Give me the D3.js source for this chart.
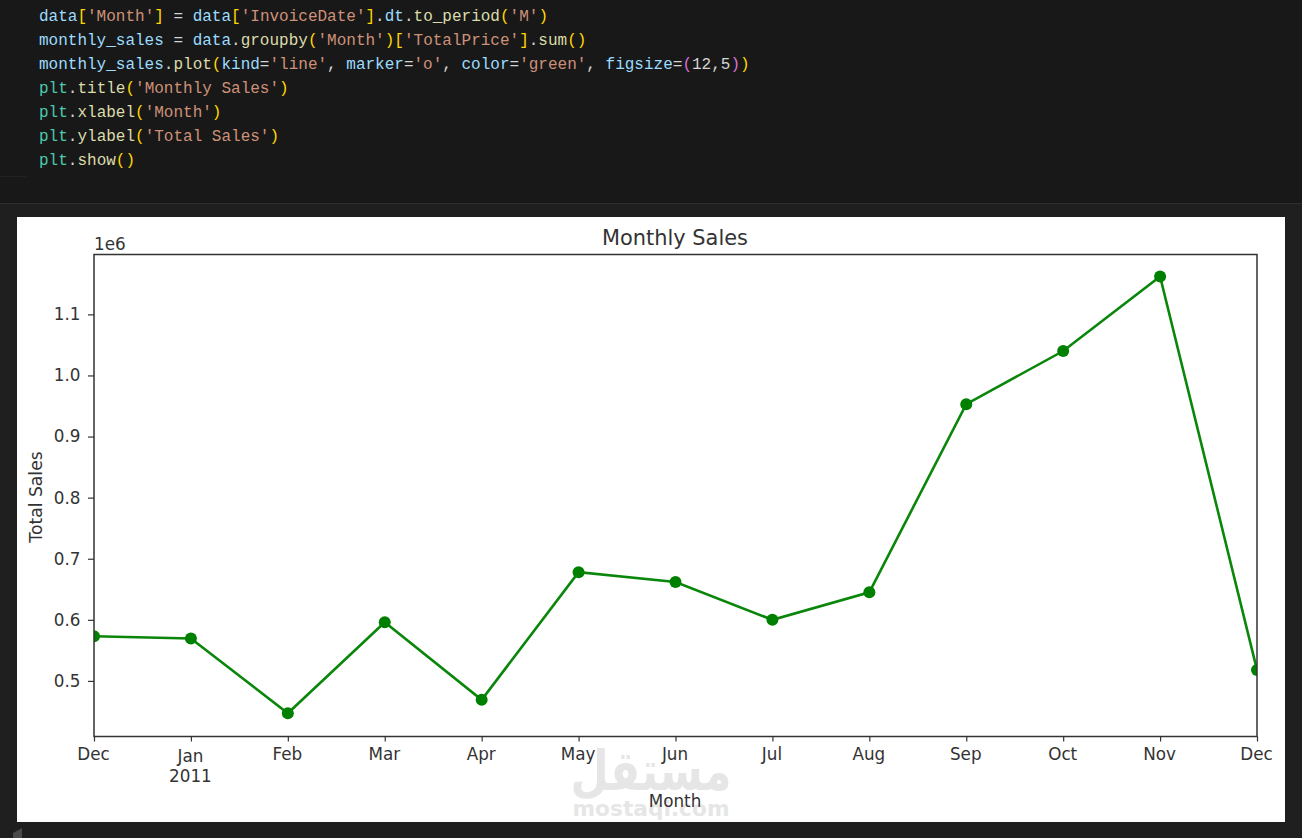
<!DOCTYPE html>
<html lang="en">

<head>
    <meta charset="UTF-8">
    <title>Monthly Sales</title>
    <script src="https://d3js.org/d3.v7.min.js"></script>
    <style>
        html, body { margin: 0; padding: 0; background: #1f1f1f; overflow: hidden; }
        svg { display: block; }
        text { font-family: "DejaVu Sans", sans-serif; fill: #333; }
        .code text { font-family: "Liberation Mono", monospace; font-size: 16px; white-space: pre; }
    </style>
</head>

<body>
    <svg width="1302" height="838"></svg>

    <script>
        const months = ["Dec", "Jan", "Feb", "Mar", "Apr", "May", "Jun", "Jul", "Aug", "Sep", "Oct", "Nov", "Dec"];
        const sales = [0.573, 0.5695, 0.447, 0.596, 0.469, 0.678, 0.662, 0.600, 0.645, 0.953, 1.040, 1.162, 0.518];
        const yTicks = [0.5, 0.6, 0.7, 0.8, 0.9, 1.0, 1.1];

        const V = "#9cdcfe", W = "#d4d4d4", S = "#ce9178", F = "#dcdcaa", M = "#4ec9b0", Y = "#ffd700", P = "#da70d6";
        const codeLines = [
            [["data", V], ["[", Y], ["'Month'", S], ["]", Y], [" = ", W], ["data", V], ["[", Y], ["'InvoiceDate'", S], ["]", Y], [".", W], ["dt", V], [".", W], ["to_period", F], ["(", Y], ["'M'", S], [")", Y]],
            [["monthly_sales", V], [" = ", W], ["data", V], [".", W], ["groupby", F], ["(", Y], ["'Month'", S], [")", Y], ["[", Y], ["'TotalPrice'", S], ["]", Y], [".", W], ["sum", F], ["()", Y]],
            [["monthly_sales", V], [".", W], ["plot", F], ["(", Y], ["kind", V], ["=", W], ["'line'", S], [", ", W], ["marker", V], ["=", W], ["'o'", S], [", ", W], ["color", V], ["=", W], ["'green'", S], [", ", W], ["figsize", V], ["=", W], ["(", P], ["12,5", W], [")", P], [")", Y]],
            [["plt", M], [".", W], ["title", F], ["(", Y], ["'Monthly Sales'", S], [")", Y]],
            [["plt", M], [".", W], ["xlabel", F], ["(", Y], ["'Month'", S], [")", Y]],
            [["plt", M], [".", W], ["ylabel", F], ["(", Y], ["'Total Sales'", S], [")", Y]],
            [["plt", M], [".", W], ["show", F], ["()", Y]]
        ];

        const svg = d3.select("svg");
        const plotLeft = 94, plotRight = 1257, plotTop = 254.5, plotBottom = 736.5;

        // editor background
        svg.append("rect").attr("width", 1302).attr("height", 203).attr("fill", "#181818");
        svg.append("rect").attr("y", 203).attr("width", 1302).attr("height", 1).attr("fill", "#2e2e2e");
        svg.append("rect").attr("x", 0).attr("y", 176).attr("width", 26).attr("height", 1).attr("fill", "#222222");
        svg.append("path").attr("d", "M13 833 L22 828 L22 838 L13 838 Z").attr("fill", "#4a4a4a");

        // code cell
        const code = svg.append("g").attr("class", "code");
        codeLines.forEach((line, i) => {
            const t = code.append("text").attr("x", 39).attr("y", 21 + i * 24);
            line.forEach(tok => t.append("tspan").style("fill", tok[1]).text(tok[0]));
        });

        // output image
        svg.append("rect").attr("x", 17).attr("y", 217).attr("width", 1268).attr("height", 605).attr("fill", "#fff");

        // watermark sits under the chart text
        svg.append("text").attr("transform", "translate(651,790) scale(1,1.25)").attr("text-anchor", "middle")
            .attr("direction", "rtl")
            .style("font-size", "44px").style("font-weight", "bold").style("fill", "#e6e6e6").text("مستقل");
        svg.append("text").attr("x", 651).attr("y", 816).attr("text-anchor", "middle")
            .style("font-size", "21.7px").style("font-weight", "bold").style("fill", "#e6e6e6").text("mostaqi.com");

        const xScale = d3.scalePoint().domain(d3.range(months.length)).range([plotLeft, plotRight]);
        const yScale = d3.scaleLinear().domain([0.409, 1.198]).range([plotBottom, plotTop]);

        svg.append("defs").append("clipPath").attr("id", "plot").append("rect")
            .attr("x", plotLeft).attr("y", plotTop).attr("width", plotRight - plotLeft).attr("height", plotBottom - plotTop);

        const plot = svg.append("g").attr("clip-path", "url(#plot)");
        plot.append("path")
            .datum(sales)
            .attr("fill", "none")
            .attr("stroke", "#0a870a")
            .attr("stroke-width", 2.6)
            .attr("d", d3.line().x((d, i) => xScale(i)).y(d => yScale(d)));
        plot.selectAll("circle")
            .data(sales)
            .enter()
            .append("circle")
            .attr("cx", (d, i) => xScale(i))
            .attr("cy", d => yScale(d))
            .attr("r", 6)
            .attr("fill", "#008000");

        svg.append("rect").attr("x", plotLeft).attr("y", plotTop).attr("width", plotRight - plotLeft).attr("height", plotBottom - plotTop)
            .attr("fill", "none").attr("stroke", "#333").attr("stroke-width", 1.5);

        // axes
        const xAxis = svg.append("g")
            .attr("transform", `translate(0,${plotBottom})`)
            .call(d3.axisBottom(xScale).tickSize(5).tickPadding(5).tickFormat(i => months[i]));
        const yAxis = svg.append("g")
            .attr("transform", `translate(${plotLeft},0)`)
            .call(d3.axisLeft(yScale).tickValues(yTicks).tickSize(6).tickPadding(8).tickFormat(d3.format(".1f")));
        [xAxis, yAxis].forEach(a => {
            a.select(".domain").remove();
            a.selectAll("line").attr("stroke", "#333").attr("stroke-width", 1.2);
            a.selectAll("text").style("font-size", "16.8px").style("font-family", "'DejaVu Sans'").attr("fill", null);
        });
        yAxis.selectAll("text").attr("x", -13.5);
        xAxis.selectAll("text").attr("x", -1).attr("y", 23.5).attr("dy", 0);
        xAxis.selectAll(".tick").filter(i => i === 1).select("text").attr("y", 25.5);
        xAxis.selectAll(".tick").filter(i => i === 1).append("text")
            .attr("x", -1).attr("y", 45.5).attr("text-anchor", "middle")
            .style("font-size", "16.8px").text("2011");

        // labels
        svg.append("text").attr("x", 675).attr("y", 244.5).attr("text-anchor", "middle")
            .style("font-size", "20.9px").text("Monthly Sales");
        svg.append("text").attr("x", 675).attr("y", 806.5).attr("text-anchor", "middle")
            .style("font-size", "16.8px").text("Month");
        svg.append("text").attr("transform", "translate(42,497) rotate(-90)").attr("text-anchor", "middle")
            .style("font-size", "17.2px").text("Total Sales");
        svg.append("text").attr("x", 94).attr("y", 249.5).style("font-size", "16.8px").text("1e6");
    </script>
</body>

</html>
